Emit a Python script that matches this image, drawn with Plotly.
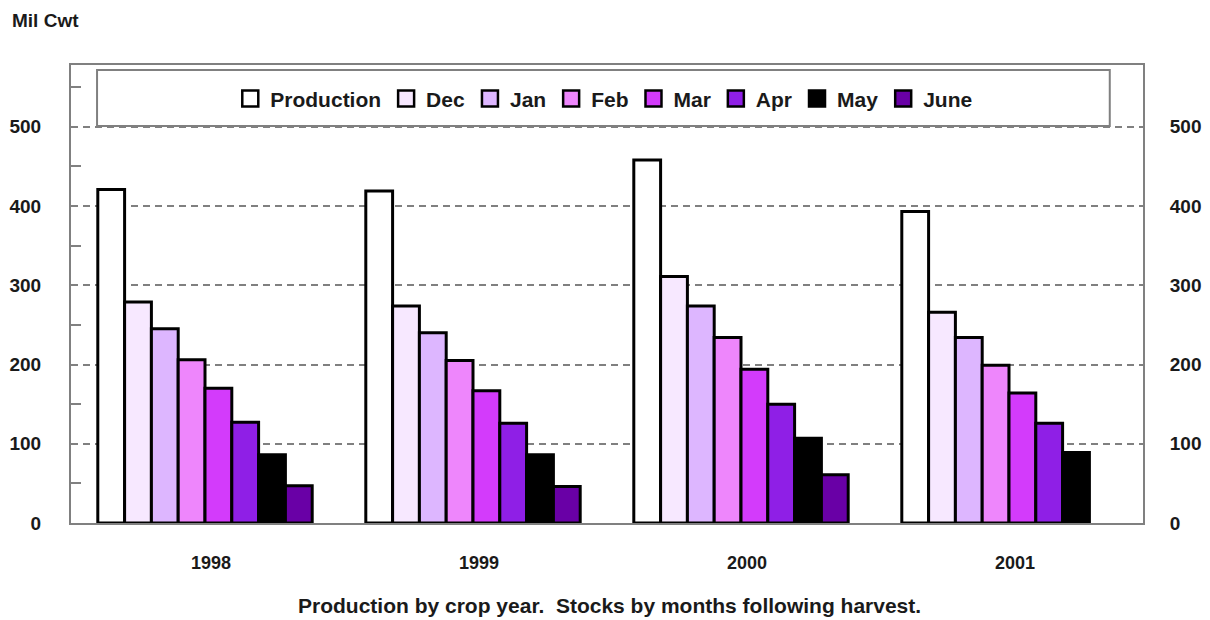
import plotly.graph_objects as go

years = ["1998", "1999", "2000", "2001"]
series_names = ["Production", "Dec", "Jan", "Feb", "Mar", "Apr", "May", "June"]
production = [421, 419, 458, 393]
dec = [279, 274, 311, 266]
jan = [245, 240, 274, 234]
feb = [206, 205, 234, 199]
mar = [170, 167, 194, 164]
apr = [127, 126, 150, 126]
may = [86, 86, 107, 89]
june = [47, 46, 61, None]
series_values = [production, dec, jan, feb, mar, apr, may, june]
colors = ["#FFFFFF", "#F7E8FF", "#DDB6FF", "#EE86FC", "#D33BFB", "#8F1FE6", "#000000", "#6900A6"]
tick_vals = [0, 100, 200, 300, 400, 500]
minor_vals = [50, 150, 250, 350, 450, 550]
y_title = "Mil Cwt"
caption = "Production by crop year.\u00a0 Stocks by months following harvest."

FONT = "Liberation Sans, Arial, sans-serif"
GRAY = "#808080"
TXT = "#1a1a1a"

fig = go.Figure()
for name, vals, col in zip(series_names, series_values, colors):
    fig.add_trace(go.Bar(
        x=years, y=vals, name=name, showlegend=False,
        marker=dict(color=col, line=dict(color="#000000", width=3)),
    ))
# legend entries (larger square swatches), placed on the right-hand axis
for name, col in zip(series_names, colors):
    fig.add_trace(go.Scatter(
        x=[None], y=[None], name=name, mode="markers", yaxis="y2",
        marker=dict(symbol="square", size=16, color=col,
                    line=dict(color="#000000", width=2.5)),
        hoverinfo="skip",
    ))

fig.update_layout(
    width=1194, height=612,
    margin=dict(l=63, r=59, t=57, b=97, autoexpand=False),
    paper_bgcolor="white", plot_bgcolor="white",
    barmode="group", bargap=0.2, bargroupgap=0,
    font=dict(family=FONT, size=20, color=TXT, weight="bold"),
    showlegend=True,
    legend=dict(
        orientation="h", x=0.497, xanchor="center", y=0.926, yanchor="middle",
        bgcolor="rgba(0,0,0,0)", borderwidth=0,
        font=dict(family=FONT, size=21, color=TXT, weight="bold"),
        traceorder="normal", itemsizing="trace",
    ),
    xaxis=dict(
        type="category", categoryorder="array", categoryarray=years,
        automargin=False,
        showline=True, mirror=True, linecolor=GRAY, linewidth=2,
        ticks="", showgrid=False, ticklabelstandoff=22, ticklabelshift=6,
        tickfont=dict(family=FONT, size=18, color=TXT, weight="bold"),
    ),
    yaxis=dict(
        range=[0, 578], tickvals=tick_vals, showgrid=True, gridcolor=GRAY,
        gridwidth=2, griddash="7px,5px", zeroline=False, automargin=False,
        showline=True, linecolor=GRAY, linewidth=2, ticks="",
        ticklabelstandoff=24,
        tickfont=dict(family=FONT, size=19, color=TXT, weight="bold"),
        minor=dict(tickvals=minor_vals, ticks="inside", ticklen=10,
                   tickcolor=GRAY, tickwidth=2, showgrid=False),
    ),
    yaxis2=dict(
        range=[0, 578], tickvals=tick_vals, overlaying="y", side="right",
        showgrid=False, zeroline=False, showline=True, linecolor=GRAY,
        linewidth=2, ticks="", ticklabelstandoff=21, automargin=False,
        tickfont=dict(family=FONT, size=19, color=TXT, weight="bold"),
    ),
    shapes=[dict(
        type="rect", xref="paper", yref="paper",
        x0=0.0243, x1=0.969, y0=0.867, y1=0.989,
        line=dict(color=GRAY, width=2), fillcolor="white", layer="above",
    )],
    annotations=[
        dict(text=y_title, xref="paper", yref="paper", x=-0.057, y=1.098,
             xanchor="left", yanchor="middle", showarrow=False,
             font=dict(family=FONT, size=19, color=TXT, weight="bold")),
        dict(text=caption, xref="paper", yref="paper", x=0.502, y=-0.181,
             xanchor="center", yanchor="middle", showarrow=False,
             font=dict(family=FONT, size=21, color=TXT, weight="bold")),
    ],
)

fig.write_html("out.html")
